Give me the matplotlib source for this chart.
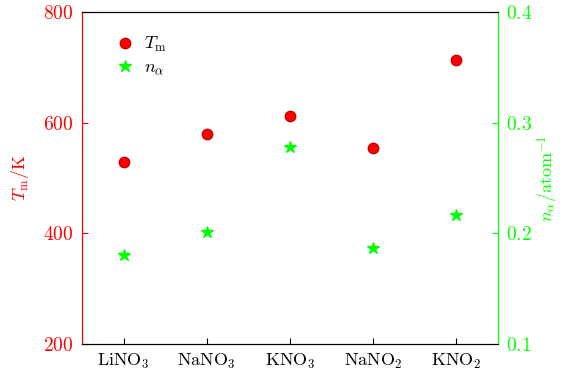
import matplotlib
matplotlib.use("Agg")
import matplotlib.pyplot as plt

plt.rcParams.update({
    "font.family": "serif",
    "font.serif": ["cmr10", "DejaVu Serif"],
    "mathtext.fontset": "cm",
    "axes.formatter.use_mathtext": True,
    "font.size": 13,
})

salts = [r"LiNO$_3$", r"NaNO$_3$", r"KNO$_3$", r"NaNO$_2$", r"KNO$_2$"]
t_melt = [529, 580, 612, 554, 713]
n_alpha = [0.180, 0.201, 0.278, 0.187, 0.217]

RED = "#ff0000"
GREEN = "#00ff00"

fig = plt.figure(figsize=(5.63, 3.76), dpi=100)
ax = fig.add_axes([0.1456, 0.0851, 0.7389, 0.8829])
ax2 = ax.twinx()

x = range(len(salts))
h1, = ax.plot(x, t_melt, "o", color=RED, mec="#cc0000", ms=7.5)
h2, = ax2.plot(x, n_alpha, "*", color=GREEN, mec=GREEN, ms=9)

ax.set_xlim(-0.5, 4.5)
ax.set_ylim(200, 800)
ax.set_yticks([200, 400, 600, 800])
ax.set_xticks(list(x))
ax.set_xticklabels(salts)
ax2.set_ylim(0.1, 0.4)
ax2.set_yticks([0.1, 0.2, 0.3, 0.4])

ax.set_ylabel(r"$T_{\rm m}$/K", color=RED, labelpad=9)
ax2.set_ylabel(r"$n_\alpha$/atom$^{-1}$", color=GREEN, labelpad=2)

for a in (ax, ax2):
    a.tick_params(direction="in", length=4, pad=6, labelsize=14)
ax.tick_params(axis="y", colors=RED)
ax2.tick_params(axis="y", colors=GREEN)
ax.tick_params(axis="x", top=False, labelsize=13)

ax2.spines["left"].set_color(RED)
ax2.spines["right"].set_color(GREEN)
ax.spines["left"].set_color(RED)
ax.spines["right"].set_color(GREEN)

ax2.legend([h1, h2], [r"$T_{\rm m}$", r"$n_\alpha$"], loc="upper left",
           frameon=False, bbox_to_anchor=(0.02, 0.98), handletextpad=0.1,
           labelspacing=0.3, fontsize=13)

fig.savefig("out.png", dpi=100)
